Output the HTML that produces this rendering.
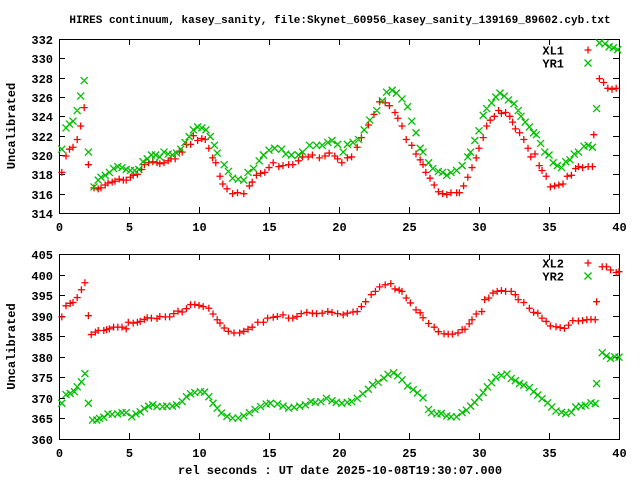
<!DOCTYPE html>
<html><head><meta charset="utf-8"><style>
html,body{margin:0;padding:0;background:#fff;}
svg{display:block;}
text{font-family:"Liberation Mono",monospace;font-weight:bold;fill:#000;}
</style></head><body>
<svg id="chart" width="640" height="480" viewBox="0 0 640 480">
<text x="340" y="23" font-size="11" text-anchor="middle">HIRES continuum, kasey_sanity, file:Skynet_60956_kasey_sanity_139169_89602.cyb.txt</text>
<text x="340" y="474" font-size="12" text-anchor="middle">rel seconds : UT date 2025-10-08T19:30:07.000</text>
</svg>
<script>
const xTicks = [0,5,10,15,20,25,30,35,40];
const topYTicks = [314,316,318,320,322,324,326,328,330,332];
const botYTicks = [360,365,370,375,380,385,390,395,400,405];

const xl1T = [0.2,0.5,0.75,1.0,1.3,1.55,1.8,2.1,2.5,2.8,3.0,3.3,3.5,3.8,4.0,4.3,4.6,4.8,5.1,5.3,5.6,5.9,6.1,6.4,6.7,7.0,7.2,7.5,7.8,8.0,8.3,8.6,8.8,9.1,9.4,9.6,9.9,10.2,10.45,10.7,10.97,11.2,11.5,11.7,12.0,12.4,12.75,13.2,13.6,13.8,14.1,14.4,14.7,15.0,15.3,15.7,16.0,16.4,16.7,17.1,17.4,17.8,18.1,18.6,19.0,19.3,19.7,19.9,20.2,20.6,20.9,21.3,21.6,22.1,22.5,22.9,23.3,23.6,24.0,24.2,24.5,24.8,25.2,25.5,25.8,26.0,26.2,26.5,26.8,27.1,27.4,27.7,28.0,28.4,28.6,28.9,29.2,29.5,29.8,30.0,30.3,30.55,30.8,31.1,31.4,31.6,31.9,32.2,32.4,32.6,32.9,33.2,33.5,33.7,34.0,34.3,34.5,34.8,35.1,35.4,35.7,36.0,36.3,36.6,36.9,37.1,37.4,37.8,38.1,38.2,38.6,38.9,39.2,39.5,39.8];
const xl1V = [318.2,319.9,320.6,320.8,321.6,323.0,324.9,319.0,316.6,316.5,316.6,316.9,317.1,317.2,317.3,317.5,317.4,317.4,317.7,317.9,318.0,318.5,319.0,319.2,319.3,319.2,319.1,319.2,319.4,319.6,319.6,320.4,320.3,321.1,321.1,322.0,321.5,321.7,321.6,320.7,319.7,319.2,317.8,317.0,316.5,316.0,316.1,316.0,316.8,317.2,317.9,318.1,318.2,318.7,319.2,318.8,318.9,319.0,319.0,319.4,319.8,319.8,320.0,319.7,319.9,320.2,319.9,319.6,319.2,319.7,319.8,320.8,321.8,323.1,324.2,325.5,325.4,325.1,324.4,323.8,323.0,321.6,321.0,320.1,319.5,319.0,318.2,317.6,316.9,316.2,316.0,315.9,316.1,316.1,316.1,316.8,317.7,318.7,319.7,320.7,321.8,323.0,323.6,324.0,324.6,324.3,324.4,324.0,323.4,322.7,322.3,321.6,320.7,319.8,320.1,318.9,318.4,317.8,316.7,316.8,316.9,317.0,317.8,317.9,318.6,318.8,318.7,318.8,318.8,322.1,327.9,327.5,326.9,326.8,326.9];

const yr1T = [0.2,0.5,0.75,1.0,1.3,1.55,1.8,2.1,2.5,2.8,3.0,3.3,3.6,3.9,4.2,4.5,4.8,5.1,5.4,5.7,6.0,6.3,6.6,6.9,7.2,7.5,7.8,8.1,8.4,8.7,9.0,9.3,9.6,9.9,10.2,10.5,10.8,11.1,11.3,11.8,12.1,12.4,12.8,13.2,13.5,13.9,14.3,14.6,15.0,15.4,15.9,16.2,16.6,17.1,17.4,17.9,18.4,18.8,19.2,19.5,19.9,20.3,20.6,21.0,21.4,21.8,22.2,22.7,23.1,23.4,23.8,24.1,24.5,24.9,25.2,25.5,25.8,26.0,26.4,26.7,27.1,27.4,27.7,28.0,28.4,28.8,29.2,29.4,29.7,30.0,30.3,30.55,30.9,31.2,31.5,31.8,32.1,32.5,32.8,33.0,33.3,33.6,33.9,34.1,34.4,34.7,35.0,35.3,35.6,35.9,36.2,36.5,36.8,37.1,37.5,37.8,38.1,38.4,38.6,39.0,39.3,39.6,39.9];
const yr1V = [320.6,322.8,323.2,323.5,324.6,326.1,327.7,320.3,316.7,317.4,317.7,317.9,318.2,318.6,318.8,318.7,318.5,318.4,318.4,318.5,319.3,319.6,320.0,320.0,319.8,320.3,320.1,320.0,320.2,320.6,321.3,321.9,322.6,322.9,322.8,322.6,321.9,321.0,320.2,319.0,318.3,317.6,317.5,317.4,318.2,318.6,319.4,320.0,320.5,320.7,320.6,320.1,320.0,320.0,320.3,321.0,321.0,321.0,321.3,321.5,321.1,320.3,321.1,321.3,321.6,322.6,323.6,324.6,325.6,326.5,326.7,326.4,325.8,325.0,323.5,322.3,320.7,320.3,319.2,318.6,318.3,318.2,317.9,318.2,318.4,318.9,319.8,320.3,321.5,322.5,324.1,324.8,325.4,326.0,326.4,326.1,325.7,325.3,324.6,324.0,323.4,322.9,322.3,322.1,321.2,320.3,320.0,319.2,318.9,318.7,319.3,319.5,320.1,320.3,320.9,321.0,320.8,324.8,331.6,331.5,331.2,331.1,330.9];

const xl2T = [0.2,0.5,0.8,1.0,1.3,1.6,1.85,2.1,2.3,2.6,2.8,3.2,3.4,3.6,3.9,4.2,4.5,4.8,4.95,5.3,5.6,5.8,6.1,6.3,6.6,7.0,7.2,7.6,7.9,8.2,8.5,8.8,9.1,9.4,9.7,10.0,10.3,10.7,11.0,11.3,11.5,11.8,12.1,12.5,12.9,13.2,13.5,13.8,14.2,14.6,14.9,15.3,15.6,16.0,16.4,16.7,17.0,17.3,17.7,18.1,18.4,18.8,19.2,19.5,19.9,20.3,20.6,21.0,21.3,21.6,21.9,22.3,22.6,22.9,23.3,23.7,24.0,24.3,24.5,24.8,25.1,25.5,25.8,26.0,26.4,26.8,27.1,27.5,27.8,28.1,28.5,28.8,29.0,29.3,29.5,29.8,30.2,30.4,30.7,31.0,31.3,31.6,31.9,32.3,32.6,32.8,33.2,33.6,33.9,34.2,34.5,34.8,35.1,35.5,35.8,36.1,36.4,36.7,37.1,37.4,37.7,38.0,38.3,38.4,38.8,39.1,39.4,39.8,40.0];
const xl2V = [389.7,392.4,393.0,393.2,394.4,396.3,398.0,390.0,385.4,386.0,386.4,386.4,386.6,386.8,387.2,387.2,387.2,386.8,388.4,388.2,388.4,388.6,389.1,389.5,389.4,389.3,389.8,389.7,389.7,390.5,391.1,390.9,391.7,392.7,392.7,392.5,392.2,391.8,390.4,389.0,388.2,387.0,386.2,385.8,385.8,386.2,386.7,387.2,388.4,388.4,389.4,389.6,389.8,390.2,389.4,389.4,389.8,390.5,390.8,390.6,390.5,390.6,391.0,390.8,390.5,390.2,390.6,390.9,391.0,392.2,393.4,395.1,395.9,397.0,397.5,397.8,396.5,396.2,395.9,394.3,393.1,391.4,390.7,389.5,388.1,387.2,386.1,385.6,385.5,385.5,385.8,386.6,386.7,388.0,389.0,390.4,391.0,393.9,394.3,395.5,395.9,396.1,395.9,395.9,395.1,393.9,393.2,391.8,390.8,390.6,389.4,388.6,387.5,387.3,387.1,386.9,387.7,388.8,388.7,388.8,389.0,389.1,389.0,393.4,401.9,401.9,401.1,400.5,400.7];

const yr2T = [0.2,0.5,0.8,1.1,1.3,1.6,1.85,2.1,2.4,2.7,2.9,3.2,3.5,3.8,4.2,4.5,4.8,5.2,5.5,5.8,6.1,6.4,6.7,7.0,7.4,7.7,8.1,8.4,8.8,9.1,9.4,9.7,10.1,10.4,10.7,11.0,11.3,11.6,12.0,12.4,12.8,13.2,13.6,14.0,14.4,14.8,15.1,15.6,16.0,16.4,16.8,17.2,17.6,18.0,18.3,18.7,19.1,19.5,19.8,20.2,20.6,20.9,21.3,21.7,22.1,22.4,22.8,23.2,23.5,23.9,24.2,24.5,24.9,25.3,25.6,26.0,26.4,26.6,27.0,27.3,27.7,28.0,28.4,28.8,29.1,29.4,29.7,30.0,30.3,30.6,30.9,31.2,31.6,32.0,32.3,32.6,32.9,33.2,33.6,33.9,34.2,34.5,34.9,35.2,35.5,35.9,36.2,36.6,36.9,37.3,37.6,38.0,38.3,38.4,38.8,39.1,39.4,39.7,40.0];
const yr2V = [368.7,370.8,371.1,371.5,372.7,373.9,375.9,368.7,364.6,364.6,365.0,365.3,366.1,366.0,366.1,366.4,366.4,365.4,366.1,366.6,367.4,368.0,368.3,367.9,367.9,368.0,368.0,368.3,369.1,370.3,371.0,371.3,371.5,371.4,370.3,368.7,367.5,366.3,365.5,365.1,365.1,365.6,366.4,367.2,367.9,368.5,368.7,368.5,368.0,367.5,367.7,368.0,368.3,369.1,368.9,369.1,369.9,369.3,368.9,368.7,368.9,369.1,369.9,371.0,372.1,373.2,373.8,374.8,375.7,376.1,375.4,374.4,372.9,372.0,371.2,370.0,367.2,366.4,366.1,366.2,365.6,365.4,365.4,366.4,367.0,368.0,368.9,370.1,371.3,372.7,373.7,375.0,375.5,375.8,374.7,374.2,373.5,373.1,372.5,371.5,370.7,369.8,368.8,367.8,366.8,366.5,366.2,366.5,367.8,368.0,368.2,368.8,368.6,373.5,381.0,380.2,379.6,380.0,379.9];

const NS='http://www.w3.org/2000/svg';
const svg=document.getElementById('chart');
const X0=59,X1=619;
function xs(t){return X0+(t-0)/(40-0)*(X1-X0);}
function mk(tag,attrs){const e=document.createElementNS(NS,tag);for(const k in attrs)e.setAttribute(k,attrs[k]);return e;}

function panel(name,top,bot,ymin,ymax,yTicks,series,legendY){
  const g=mk('g',{});
  
  
  svg.appendChild(g);
  const ys=v=>bot-(v-ymin)/(ymax-ymin)*(bot-top);
  // ticks
  xTicks.forEach(t=>{
    const x=xs(t)+0.5;
    const tk=mk('path',{d:`M${x} ${bot}V${bot-6}M${x} ${top}V${top+6}`,stroke:'#000','stroke-width':1});
    
    
    g.appendChild(tk);
    const lb=mk('text',{x:xs(t)+0.5,y:bot+18,'font-size':12,'text-anchor':'middle'});
    lb.textContent=t;
    
    
    g.appendChild(lb);
  });
  yTicks.forEach(v=>{
    const y=Math.round(ys(v))+0.5;
    const tk=mk('path',{d:`M${X0} ${y}H${X0+6}M${X1} ${y}H${X1-6}`,stroke:'#000','stroke-width':1});
    
    
    g.appendChild(tk);
    const lb=mk('text',{x:53,y:y+4.5,'font-size':12,'text-anchor':'end'});
    lb.textContent=v;
    
    
    g.appendChild(lb);
  });
  const fr=mk('rect',{x:X0+0.5,y:top+0.5,width:X1-X0,height:bot-top,fill:'none',stroke:'#000','stroke-width':1});
  
  
  g.appendChild(fr);
  const cy=(top+bot)/2;
  const yl=mk('text',{x:0,y:0,'font-size':12,'text-anchor':'middle',transform:`translate(15,${cy}) rotate(-90)`});
  yl.textContent='Uncalibrated';
  
  
  g.appendChild(yl);
  series.forEach((s,si)=>{
    const sg=mk('g',{});
    
    
    g.appendChild(sg);
    let d='';
    const h=3.5;
    const glyph=(x,y)=> s.plus?`M${x-h} ${y}H${x+h}M${x} ${y-h}V${y+h}`:`M${x-h} ${y-h}L${x+h} ${y+h}M${x-h} ${y+h}L${x+h} ${y-h}`;
    s.t.forEach((t,i)=>{d+=glyph(xs(t),ys(s.v[i]));});
    const p=mk('path',{d:d,stroke:s.color,'stroke-width':1.3,fill:'none'});
    
    
    sg.appendChild(p);
    const ly=legendY+si*13;
    const lt=mk('text',{x:564,y:ly+4.5,'font-size':12,'text-anchor':'end'});
    lt.textContent=s.label;
    
    
    g.appendChild(lt);
    const lm=mk('path',{d:glyph(588,ly),stroke:s.color,'stroke-width':1.3,fill:'none'});
    
    
    g.appendChild(lm);
  });
}
panel('top-panel',39,213,314,332,topYTicks,[
  {label:'XL1',t:xl1T,v:xl1V,color:'#ff0000',plus:true},
  {label:'YR1',t:yr1T,v:yr1V,color:'#00c000',plus:false}],50);
panel('bottom-panel',254,439,360,405,botYTicks,[
  {label:'XL2',t:xl2T,v:xl2V,color:'#ff0000',plus:true},
  {label:'YR2',t:yr2T,v:yr2V,color:'#00c000',plus:false}],263);
</script>
</body></html>
